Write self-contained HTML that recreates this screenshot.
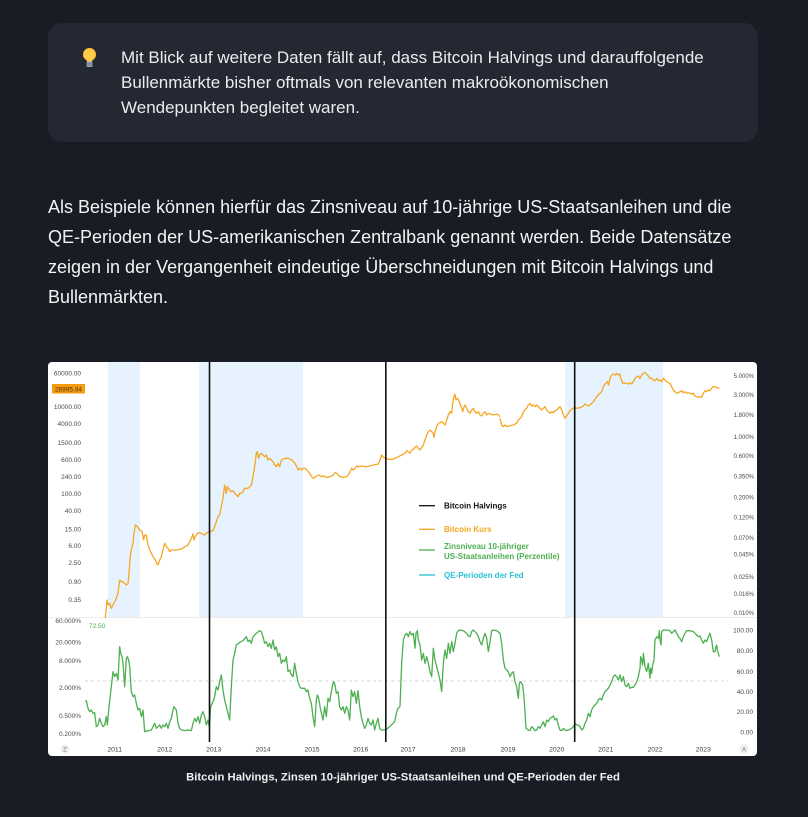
<!DOCTYPE html>
<html><head><meta charset="utf-8">
<style>
html,body{margin:0;padding:0;}
body{width:808px;height:817px;overflow:hidden;position:relative;background:#191c24;font-family:"Liberation Sans",Arial,sans-serif;}
.callout{position:absolute;left:48px;top:23px;width:710px;height:119px;background:#242833;border-radius:14px;}
.ctext{position:absolute;left:121px;top:45px;font-size:17px;line-height:25px;color:#ececec;white-space:nowrap;}
.para{position:absolute;left:48px;top:192px;font-size:18px;line-height:30px;color:#f3f3f3;white-space:nowrap;}
svg{position:absolute;left:0;top:0;}
</style></head><body>
<div class="callout"></div>
<div class="ctext">Mit Blick auf weitere Daten fällt auf, dass Bitcoin Halvings und darauffolgende<br>Bullenmärkte bisher oftmals von relevanten makroökonomischen<br>Wendepunkten begleitet waren.</div>
<div class="para">Als Beispiele können hierfür das Zinsniveau auf 10-jährige US-Staatsanleihen und die<br>QE-Perioden der US-amerikanischen Zentralbank genannt werden. Beide Datensätze<br>zeigen in der Vergangenheit eindeutige Überschneidungen mit Bitcoin Halvings und<br>Bullenmärkten.</div>
<svg width="808" height="817" viewBox="0 0 808 817" xmlns="http://www.w3.org/2000/svg">
<defs>
<clipPath id="up"><rect x="48" y="362" width="709" height="256"/></clipPath>
<clipPath id="lo"><rect x="48" y="618" width="709" height="124"/></clipPath>
</defs>
<!-- bulb -->
<g>
<circle cx="89.5" cy="54.5" r="6.2" fill="#ffcc4d" stroke="#f4a82a" stroke-width="0.8"/>
<path d="M86.5 58.5 L87 61.5 L92 61.5 L92.5 58.5 Z" fill="#ffcc4d"/>
<rect x="86.5" y="61.5" width="6" height="5.5" rx="1" fill="#9aa0b4"/>
<line x1="86.5" y1="63.2" x2="92.5" y2="63.2" stroke="#6d7286" stroke-width="0.7"/>
<line x1="86.5" y1="65" x2="92.5" y2="65" stroke="#6d7286" stroke-width="0.7"/>
</g>
<!-- chart background -->
<rect x="48" y="362" width="709" height="394" rx="4" fill="#ffffff"/>
<!-- QE shading -->
<g fill="#e6f2fd">
<rect x="108" y="362" width="32" height="256"/>
<rect x="199" y="362" width="104" height="256"/>
<rect x="565" y="362" width="98" height="256"/>
</g>
<line x1="48" y1="617.5" x2="757" y2="617.5" stroke="#ececec" stroke-width="1"/>
<!-- dashed 50 line -->
<line x1="85" y1="681" x2="728" y2="681" stroke="#c8c8c8" stroke-width="0.8" stroke-dasharray="3,3"/>
<!-- orange BTC -->
<g clip-path="url(#up)" fill="none" stroke="#f5a623" stroke-width="1.3" stroke-linejoin="round">
<polyline vector-effect="non-scaling-stroke" transform="translate(48,360) scale(0.33333)" points="172,775 177,720 180,735 185,730 190,745 195,735 200,725 205,715 210,700 215,660 220,665 225,665 230,670 235,675 240,670 243,640 247,585 252,560 255,550 258,520 262,495 268,500 275,510 282,515 287,540 290,525 295,525 300,555 305,570 310,580 318,595 322,600 326,610 330,615 335,600 340,590 345,570 350,550 355,560 360,565 365,575 370,570 375,570 385,570 395,568 405,565 410,560 420,555 425,545 430,535 435,522 438,540 442,530 448,520 455,518 465,523 470,525 477,518 485,515 495,512 500,500 505,485 510,470 515,465 520,440 525,415 530,375 535,400 538,380 545,390 550,395 555,392 560,400 565,405 570,410 575,400 580,400 585,395 590,385 600,385 605,380 610,375 615,350 620,320 625,280 628,275 632,295 635,285 640,280 645,285 650,290 655,285 660,300 665,295 670,300 675,305 680,315 685,320 690,310 695,320 700,300"/>
<polyline vector-effect="non-scaling-stroke" transform="translate(280,360) scale(0.33333)" points="4,300 15,295 25,295 35,300 45,310 50,320 55,330 60,325 65,330 70,325 75,325 85,335 95,350 100,355 110,348 115,345 125,350 130,348 140,352 150,350 160,345 165,338 170,340 175,345 180,350 190,352 200,350 205,345 210,335 215,325 220,330 225,325 230,318 235,320 245,318 255,320 260,320 270,318 280,315 295,312 300,300 305,285 310,292 318,295 325,298 335,298 345,295 355,290 365,285 375,280 380,272 385,275 390,280 395,270 400,268 405,262 410,258 415,265 420,270 425,262 430,255 435,240 440,225 445,215 450,210 455,215 460,220 462,232 465,215 470,200 475,190 480,188 485,185 490,190 495,195 500,180 505,165 510,155 515,160 518,130 522,108 525,103 528,120 532,115 535,118 540,130 545,145 548,155 552,140 555,135 560,145 565,155 570,160 575,150 580,145 585,155 590,160 595,155 600,165 605,168 610,160 615,155 620,165 625,160 630,162 640,165 650,162 655,165 660,170"/>
<polyline vector-effect="non-scaling-stroke" transform="translate(500,360) scale(0.33333)" points="0,175 5,195 10,200 15,195 20,200 30,197 40,195 50,190 55,180 60,175 65,170 70,155 75,150 80,145 85,135 90,130 95,138 100,135 105,140 110,135 115,140 120,145 125,150 130,145 135,140 140,150 145,155 150,160 155,155 160,158 165,152 170,150 175,145 180,140 185,150 190,165 195,175 200,168 205,160 210,152 215,148 220,145 225,142 230,145 240,143 250,138 255,132 260,135 265,138 270,135 275,130 280,125 285,118 290,110 295,105 300,100 305,95 310,80 315,72 318,70 322,65 326,75 330,55 335,45 340,42 345,45 350,40 355,45 360,42 362,55 365,60 368,70 372,68 378,70 385,72 390,68 395,72 400,65 405,55 410,50 415,48 420,55 425,45 430,40 435,38 440,42 445,48 450,55 455,55 460,60 465,62 470,55 475,62 480,60 485,65 490,55 495,60 500,65 505,68 510,70 515,80 520,90 525,95 530,100 535,98 540,95 545,92 550,98 555,95 560,100 565,98 570,100 575,102 580,100 585,108 590,110 595,112 600,110 605,112 610,100 615,92 620,95 625,90 630,92 635,85 640,80 645,80 650,82 655,85 658,85"/>
</g>
<!-- green percentile -->
<g clip-path="url(#lo)" fill="none" stroke="#4caf50" stroke-width="1.3" stroke-linejoin="round">
<polyline vector-effect="non-scaling-stroke" transform="translate(48,610) scale(0.33333)" points="112,275 115,272 120,295 125,305 130,300 135,310 140,308 145,350 150,345 155,325 160,340 165,350 170,345 175,320 178,345 183,290 190,230 195,185 200,200 205,190 210,210 215,110 218,130 222,140 225,160 230,230 235,145 238,140 242,150 245,170 250,245 255,260 260,255 265,280 270,300 275,295 280,320 285,300 290,365 300,362 310,360 320,340 325,355 330,350 335,345 340,355 345,345 350,350 355,340 360,355 365,335 370,325 375,300 378,290 385,300 390,340 395,355 400,360 410,362 420,360 430,362 435,340 440,325 445,335 450,320 455,340 460,315 465,305 470,320 475,345 480,330 484,350 488,290 495,275 500,260 505,230 510,240 515,215 520,195 525,240 530,270 535,290 540,310 545,330 550,230 555,150 560,130 565,105 575,97 585,92 595,80 600,95 605,90 610,100 615,80 625,70 635,62 640,65 645,80 650,100 655,95 660,110 665,100 670,115 675,90 680,120 685,110 690,140 695,130 700,160 705,150 710,155 715,140 720,185 725,180 730,195 735,200 740,160 745,190 750,215 755,230 760,235 770,235 775,245 780,240 785,265 790,280 795,320 800,350 805,270 808,255 812,265 818,300 825,330 830,290 835,320 840,265 845,275 850,245 855,220 858,215 862,230 865,250 870,245 875,290 880,300 885,290 890,310 895,290 900,300 905,330 910,240 915,260 920,245 925,280 930,242 935,290 940,320 945,340 950,355 955,345 960,325 965,340 970,345 975,330 980,360 985,340 990,325 995,355 1000,360 1010,360 1015,358 1025,350 1035,340 1040,335 1045,310 1050,295 1056,290"/>
<polyline vector-effect="non-scaling-stroke" transform="translate(400,610) scale(0.33333)" points="0,290 5,160 10,90 15,75 20,70 25,80 30,65 35,75 40,70 45,115 48,70 52,62 55,90 60,105 65,150 70,130 75,160 80,140 85,160 90,185 95,200 100,115 105,150 110,170 115,190 120,210 125,245 130,160 135,120 140,145 145,100 150,130 155,95 160,125 165,100 170,70 175,62 180,60 190,62 200,70 205,78 210,80 215,65 220,60 225,65 230,70 235,80 240,95 245,105 250,85 255,70 260,85 265,125 270,95 275,62 280,60 290,62 300,70 305,100 310,150 315,175 320,180 325,185 330,200 335,190 340,185 345,215 350,230 355,265 358,220 362,215 368,225 372,260 378,355 385,360 390,362 395,350 400,355 405,362 410,360 415,350 420,355 425,345 430,335 435,350 440,330 445,335 450,325 455,322 460,318 465,330 470,325 475,345 480,360 485,362 490,355 495,360 500,362 510,358 515,355 520,350 525,340 530,345 535,345 540,350 545,360 550,355 555,340 560,330 565,310 570,320 575,300 580,290 585,285 590,280 595,270 600,265 605,270 610,255 615,245 620,240 625,235 630,225 635,215 640,200 645,195 650,200 655,210 660,195 665,215 670,200 675,225 680,230 685,220 690,235 695,232 700,232 705,225 710,215 715,200 720,175 722,140 725,150 728,165 730,130 735,170 740,185 745,160 750,205 752,175 755,190 758,165 762,150 765,90 770,80 775,85 778,62 780,90 783,105 785,65 790,60 800,60 810,62 815,70 820,65 825,60 830,70 835,80 840,85 845,95 850,80 855,70 860,62 870,62 880,65 885,70 890,75 895,80 900,78 905,90 910,100 915,90 920,95 925,80 930,70 935,90 940,125 945,125 948,110 950,105 952,120 955,130 958,140"/>
</g>
<!-- halving lines -->
<g stroke="#111" stroke-width="1.6">
<line x1="209.5" y1="362" x2="209.5" y2="742"/>
<line x1="385.8" y1="362" x2="385.8" y2="742"/>
<line x1="574.7" y1="362" x2="574.7" y2="742"/>
</g>
<!-- left axis upper -->
<g font-family="Liberation Sans, Arial, sans-serif" font-size="6.5" fill="#4a4a4a" text-anchor="end">
<text x="81" y="375.5">60000.00</text>
<text x="81" y="409.2">10000.00</text>
<text x="81" y="426.2">4000.00</text>
<text x="81" y="444.9">1500.00</text>
<text x="81" y="462.2">600.00</text>
<text x="81" y="479.2">240.00</text>
<text x="81" y="496.2">100.00</text>
<text x="81" y="513.2">40.00</text>
<text x="81" y="531.5">15.00</text>
<text x="81" y="548.2">6.00</text>
<text x="81" y="565.2">2.50</text>
<text x="81" y="584.2">0.90</text>
<text x="81" y="602.2">0.35</text>
<text x="81" y="622.9">60.000%</text>
<text x="81" y="644.5">20.000%</text>
<text x="81" y="662.9">8.000%</text>
<text x="81" y="690.2">2.000%</text>
<text x="81" y="718.2">0.500%</text>
<text x="81" y="735.9">0.200%</text>
</g>
<rect x="52" y="384" width="33" height="9.5" fill="#f39c12"/>
<text x="68.5" y="391.3" font-family="Liberation Sans, Arial, sans-serif" font-size="6.5" fill="#5a3200" text-anchor="middle">26995.94</text>
<text x="89" y="628" font-family="Liberation Sans, Arial, sans-serif" font-size="6.5" fill="#4caf50">72.50</text>
<!-- right axis -->
<g font-family="Liberation Sans, Arial, sans-serif" font-size="6" fill="#4a4a4a" text-anchor="end">
<text x="754" y="377.8">5.000%</text>
<text x="754" y="396.8">3.000%</text>
<text x="754" y="416.8">1.800%</text>
<text x="754" y="438.8">1.000%</text>
<text x="754" y="457.8">0.600%</text>
<text x="754" y="478.4">0.350%</text>
<text x="754" y="499.4">0.200%</text>
<text x="754" y="519.4">0.120%</text>
<text x="754" y="539.8">0.070%</text>
<text x="754" y="556.4">0.045%</text>
<text x="754" y="578.8">0.025%</text>
<text x="754" y="595.8">0.016%</text>
<text x="754" y="614.8">0.010%</text>
</g>
<g font-family="Liberation Sans, Arial, sans-serif" font-size="6.5" fill="#4a4a4a" text-anchor="end">
<text x="753" y="632.5">100.00</text>
<text x="753" y="653.2">80.00</text>
<text x="753" y="673.9">60.00</text>
<text x="753" y="694.2">40.00</text>
<text x="753" y="714.2">20.00</text>
<text x="753" y="734.5">0.00</text>
</g>
<!-- time axis -->
<g font-family="Liberation Sans, Arial, sans-serif" font-size="6.8" fill="#3a3a3a" text-anchor="middle">
<text x="114.7" y="751.5">2011</text>
<text x="164.7" y="751.5">2012</text>
<text x="213.7" y="751.5">2013</text>
<text x="263" y="751.5">2014</text>
<text x="312" y="751.5">2015</text>
<text x="360.7" y="751.5">2016</text>
<text x="408" y="751.5">2017</text>
<text x="458" y="751.5">2018</text>
<text x="508" y="751.5">2019</text>
<text x="556.7" y="751.5">2020</text>
<text x="605.7" y="751.5">2021</text>
<text x="655" y="751.5">2022</text>
<text x="703.3" y="751.5">2023</text>
</g>
<circle cx="65" cy="749" r="4.5" fill="#eeeeee"/>
<text x="65" y="751.3" font-family="Liberation Sans, Arial, sans-serif" font-size="6" fill="#777" text-anchor="middle">Z</text>
<circle cx="744" cy="749" r="4.5" fill="#eeeeee"/>
<text x="744" y="751.3" font-family="Liberation Sans, Arial, sans-serif" font-size="6" fill="#777" text-anchor="middle">A</text>
<!-- legend -->
<g stroke-width="1.3">
<line x1="419" y1="505.7" x2="435" y2="505.7" stroke="#111"/>
<line x1="419" y1="529.3" x2="435" y2="529.3" stroke="#f5a623"/>
<line x1="419" y1="550" x2="435" y2="550" stroke="#4caf50"/>
<line x1="419" y1="575" x2="435" y2="575" stroke="#26c0d3"/>
</g>
<g font-family="Liberation Sans, Arial, sans-serif" font-size="8" font-weight="bold">
<text x="444" y="508.5" fill="#111">Bitcoin Halvings</text>
<text x="444" y="532.2" fill="#f5a623">Bitcoin Kurs</text>
<text x="444" y="548.8" fill="#4caf50">Zinsniveau 10-jähriger</text>
<text x="444" y="558.8" fill="#4caf50">US-Staatsanleihen (Perzentile)</text>
<text x="444" y="578" fill="#26c0d3">QE-Perioden der Fed</text>
</g>
<!-- caption -->
<text x="403" y="780.5" font-family="Liberation Sans, Arial, sans-serif" font-size="11.3" font-weight="bold" fill="#f0f0f0" text-anchor="middle">Bitcoin Halvings, Zinsen 10-jähriger US-Staatsanleihen und QE-Perioden der Fed</text>
</svg>
</body></html>
